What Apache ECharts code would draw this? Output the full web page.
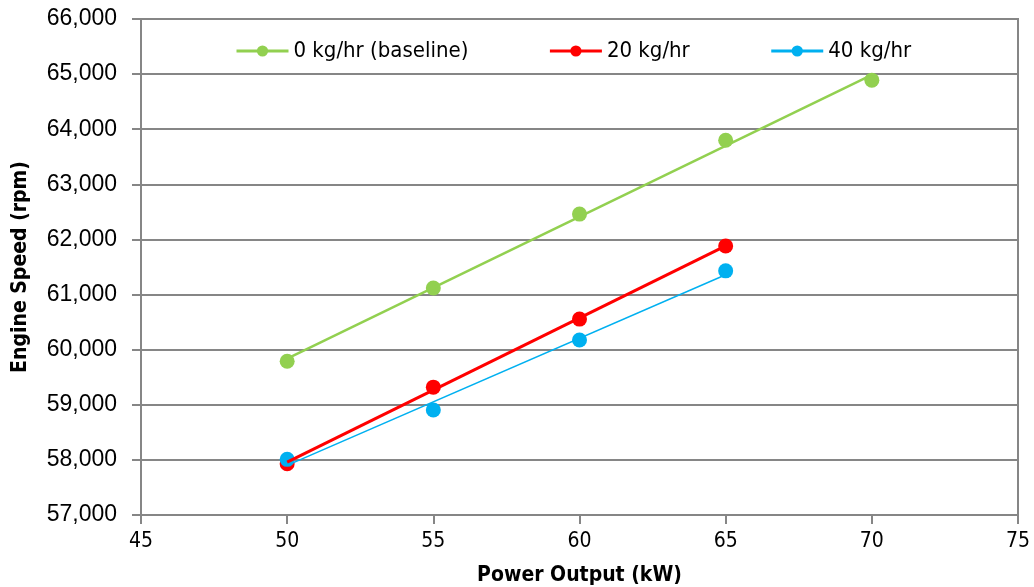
<!DOCTYPE html>
<html><head><meta charset="utf-8">
<script src="https://cdn.jsdelivr.net/npm/echarts@6/dist/echarts.min.js"></script>
<style>html,body{margin:0;padding:0;background:#fff}#c{width:1034px;height:587px}</style>
</head><body><div id="c"></div>
<script>
var seriesNames = ['0 kg/hr (baseline)', '20 kg/hr', '40 kg/hr'];
var powerBaseline = [50, 55, 60, 65, 70];
var speedBaseline = [59790, 61120, 62460, 63800, 64890];
var power20 = [50, 55, 60, 65];
var speed20 = [57930, 59320, 60555, 61880];
var power40 = [50, 55, 60, 65];
var speed40 = [58010, 58905, 60175, 61430];
var xTicks = [45, 50, 55, 60, 65, 70, 75];

var colors = ['#92D050', '#FF0000', '#00B0F0'];
var lineWidths = [2.5, 3, 1.5];
var narrow = '"DejaVu Sans Condensed", "Liberation Sans", sans-serif';

function pairs(xs, ys) { return xs.map(function (x, i) { return [x, ys[i]]; }); }
function fit(xs, ys) {
  var n = xs.length, mx = 0, my = 0;
  for (var i = 0; i < n; i++) { mx += xs[i]; my += ys[i]; }
  mx /= n; my /= n;
  var sxy = 0, sxx = 0;
  for (i = 0; i < n; i++) { sxy += (xs[i] - mx) * (ys[i] - my); sxx += (xs[i] - mx) * (xs[i] - mx); }
  var b = sxy / sxx, a = my - b * mx;
  var x0 = xs[0], x1 = xs[n - 1];
  return [[x0, a + b * x0], [x1, a + b * x1]];
}
var sets = [[powerBaseline, speedBaseline], [power20, speed20], [power40, speed40]];

var series = [];
sets.forEach(function (s, i) {
  series.push({
    name: seriesNames[i], type: 'line', data: pairs(s[0], s[1]),
    symbol: 'circle', symbolSize: 15, showSymbol: true,
    itemStyle: { color: colors[i] },
    lineStyle: { width: 0, opacity: 0, color: colors[i] },
    z: 2 + i, silent: true, animation: false
  });
});
sets.forEach(function (s, i) {
  series.push({
    name: 'fit' + i, type: 'line', data: fit(s[0], s[1]),
    symbol: 'none', lineStyle: { color: colors[i], width: lineWidths[i] },
    z: 10 + i, silent: true, animation: false
  });
});

var chart = echarts.init(document.getElementById('c'));
chart.setOption({
  animation: false,
  textStyle: { fontFamily: '"Liberation Sans", sans-serif' },
  grid: { left: 141, right: 16, top: 19, bottom: 72, outerBoundsMode: 'none', containLabel: false,
    show: true, borderColor: '#868686', borderWidth: 2, backgroundColor: 'transparent' },
  legend: {
    top: 35, left: 230, itemGap: 80, itemWidth: 52, itemHeight: 14,
    backgroundColor: '#fff',
    textStyle: { fontSize: 22, color: '#000', fontFamily: narrow },
    data: seriesNames.map(function (n, i) {
      return { name: n, lineStyle: { color: colors[i], width: 3, opacity: 1 }, itemStyle: { color: colors[i] } };
    })
  },
  xAxis: {
    type: 'value', min: 45, max: 75, interval: 5,
    name: 'Power Output (kW)', nameLocation: 'middle', nameGap: 50,
    nameTextStyle: { fontSize: 21, fontWeight: 'bold', color: '#000', fontFamily: narrow },
    axisLine: { show: true, lineStyle: { color: '#868686', width: 2 } },
    axisTick: { show: true, length: 9, lineStyle: { color: '#868686', width: 2 } },
    axisLabel: { fontSize: 21, color: '#000', margin: 16, fontFamily: narrow,
      formatter: function (v) { return xTicks.indexOf(v) >= 0 ? String(v) : ''; } },
    splitLine: { show: false }
  },
  yAxis: {
    type: 'value', min: 57000, max: 66000, interval: 1000,
    name: 'Engine Speed (rpm)', nameLocation: 'middle', nameGap: 110, nameRotate: 90,
    nameTextStyle: { fontSize: 21, fontWeight: 'bold', color: '#000', fontFamily: narrow },
    axisLine: { show: true, lineStyle: { color: '#868686', width: 2 } },
    axisTick: { show: true, length: 9, lineStyle: { color: '#868686', width: 2 } },
    axisLabel: { fontSize: 23, color: '#000', margin: 24,
      formatter: function (v) { return v.toLocaleString('en-US'); } },
    splitLine: { show: true, lineStyle: { color: '#868686', width: 2 } }
  },
  series: series
});
</script></body></html>
